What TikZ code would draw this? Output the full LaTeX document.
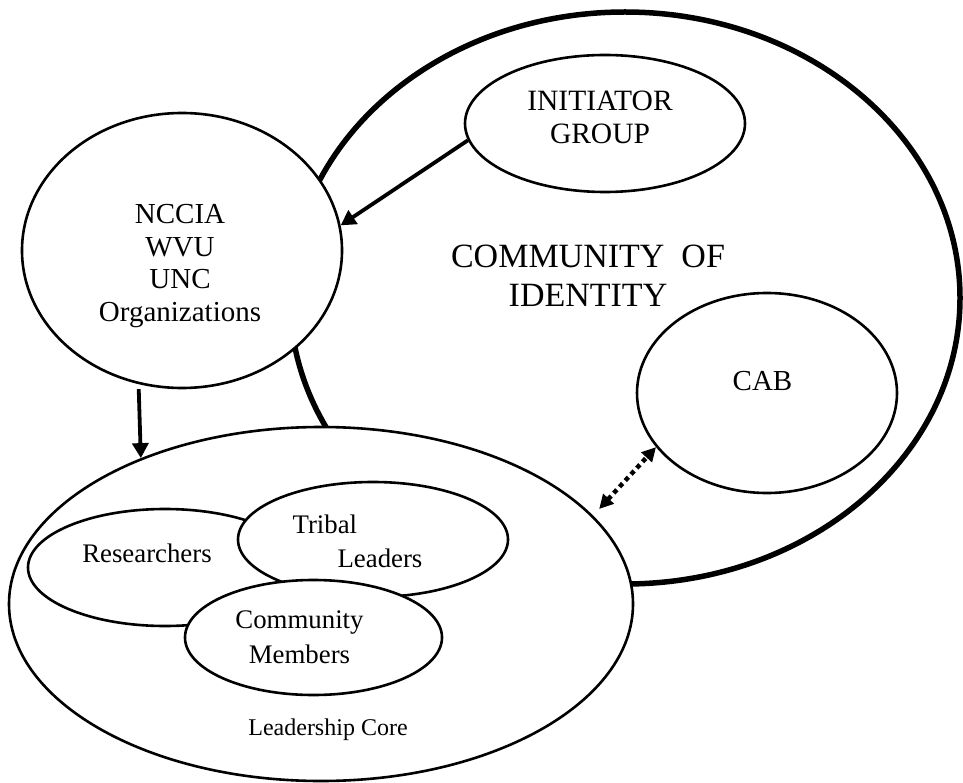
\documentclass[tikz,border=0pt]{standalone}
\usepackage{fontspec}
\setmainfont{Liberation Serif}
\usetikzlibrary{shapes.geometric,arrows.meta}

\tikzset{
  ring/.style={ellipse, draw, line width=2.6pt, fill=white, inner sep=0pt},
  outerring/.style={ellipse, draw, line width=5.5pt, inner sep=0pt},
  pointer/.style={-{Triangle[length=15pt,width=16pt]}, line width=3.8pt},
  twoway/.style={{Triangle[length=14pt,width=14pt]}-{Triangle[length=14pt,width=14pt]},
    line width=4.5pt, dash pattern=on 4.5pt off 4pt},
}

\begin{document}
\begin{tikzpicture}[x=1pt, y=-1pt]
    \useasboundingbox (0,0) rectangle (963,783);

    % the big one first, the others are filled white on top of it
    \node[outerring, minimum width=670pt, minimum height=572pt,
        label={[font=\fontsize{34}{39}\selectfont, align=center, xshift=-37pt, yshift=22pt]center:{COMMUNITY\ \ OF\\IDENTITY}}] (coi) at (625,298) {};

    \node[ring, minimum width=280pt, minimum height=137pt,
        label={[font=\fontsize{29.5}{33}\selectfont, align=center, xshift=-5pt, yshift=6.5pt]center:{INITIATOR\\GROUP}}] (init) at (605,123.5) {};
    \node[ring, minimum width=260pt, minimum height=200pt,
        label={[font=\fontsize{29}{33}\selectfont, xshift=-4.5pt, yshift=12.3pt]center:CAB}] (cab) at (767,393) {};
    \node[ring, minimum width=320pt, minimum height=275pt,
        label={[font=\fontsize{29}{32.5}\selectfont, align=center, xshift=-2pt, yshift=-15.5pt]center:{NCCIA\\WVU\\UNC\\Organizations}}] (nccia) at (182,250.5) {};

    % leadership core and its three groups
    \node[ring, minimum width=624pt, minimum height=354pt] (core) at (321,604) {};
    \node[ring, minimum width=274pt, minimum height=117pt,
        label={[font=\fontsize{26.8}{34}\selectfont, xshift=-18pt, yshift=14.4pt]center:Researchers}] (res) at (165,567.5) {};
    \node[ring, minimum width=270pt, minimum height=115pt,
        label={[font=\fontsize{26.8}{34}\selectfont, align=left, xshift=-15.5pt, yshift=-1.5pt]center:{Tribal\\\hspace*{45pt}Leaders}}] (tribal) at (373,539.5) {};
    \node[ring, minimum width=257pt, minimum height=115pt,
        label={[font=\fontsize{26.8}{35}\selectfont, align=center, xshift=-14pt]center:{Community\\Members}}] (members) at (313.5,637.5) {};
    \node[font=\fontsize{24}{28}\selectfont] (corename) at ([xshift=7pt, yshift=53pt]core.south) {Leadership Core};

    \draw[pointer] (init.187.5) -- (nccia.9.9);
    \draw[pointer, shorten <=5pt] (nccia.252) -- (core.141.3);
    \draw[twoway, shorten <=9pt] (core.18.8) -- (cab.206.4);
\end{tikzpicture}
\end{document}
